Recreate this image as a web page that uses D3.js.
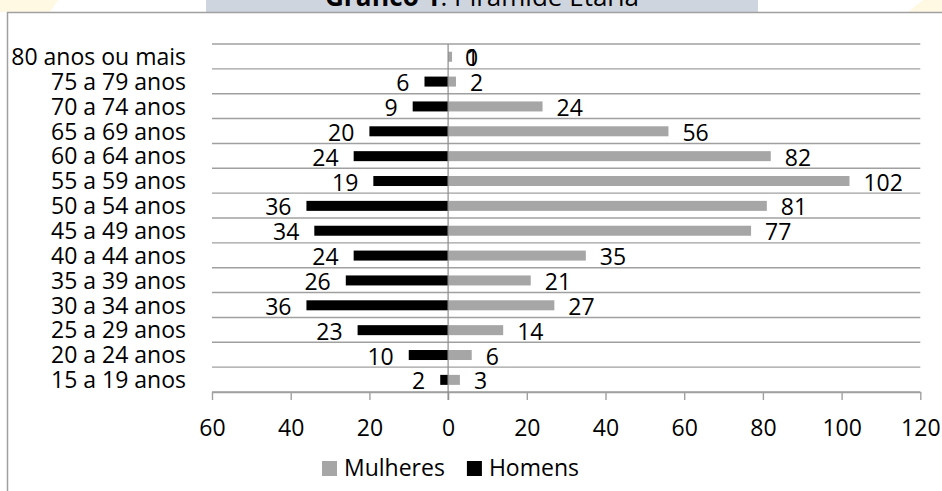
<!DOCTYPE html>
<html>
<head>
<meta charset="utf-8">
<script src="https://cdn.jsdelivr.net/npm/d3@7"></script>
<style>
  html, body { margin: 0; padding: 0; background: #fff; }
  svg { display: block; }
  text { font-family: "Open Sans", "Noto Sans", sans-serif; fill: #000; }
</style>
</head>
<body>
<svg id="chart" width="942" height="491"></svg>
<script>
const categories = ["80 anos ou mais", "75 a 79 anos", "70 a 74 anos", "65 a 69 anos", "60 a 64 anos",
  "55 a 59 anos", "50 a 54 anos", "45 a 49 anos", "40 a 44 anos", "35 a 39 anos",
  "30 a 34 anos", "25 a 29 anos", "20 a 24 anos", "15 a 19 anos"];
const homens = [0, 6, 9, 20, 24, 19, 36, 34, 24, 26, 36, 23, 10, 2];
const mulheres = [1, 2, 24, 56, 82, 102, 81, 77, 35, 21, 27, 14, 6, 3];
const tickValues = [-60, -40, -20, 0, 20, 40, 60, 80, 100, 120];
const seriesNames = ["Mulheres", "Homens"];
const seriesColors = ["#a6a6a6", "#000000"];
const titleBold = "Gráfico 1";
const titleRest = ": Pirâmide Etária";

const svg = d3.select("#chart");
const FS = 23;

// decorative pale corners
svg.append("path").attr("d", "M0,0 L58,0 L50,12 L0,12 Z").attr("fill", "#fff9e3");
svg.append("path").attr("d", "M923,0 L942,0 L942,12 L908,12 Z").attr("fill", "#fff9e3");

// title box
svg.append("rect").attr("x", 206).attr("y", 0).attr("width", 552).attr("height", 12).attr("fill", "#cfd5df");
const title = svg.append("text").attr("x", 482).attr("y", 6).attr("text-anchor", "middle")
  .style("font-size", "26px");
title.append("tspan").style("font-weight", "bold").text(titleBold);
title.append("tspan").text(titleRest);

// outer frame
svg.append("line").attr("x1", 7).attr("x2", 942).attr("y1", 12.5).attr("y2", 12.5)
  .attr("stroke", "#a0a0a0").attr("stroke-width", 1.5);
svg.append("line").attr("x1", 7.5).attr("x2", 7.5).attr("y1", 12).attr("y2", 491)
  .attr("stroke", "#a0a0a0").attr("stroke-width", 1.5);

const x = d3.scaleLinear().domain([-60, 120]).range([212, 920.3]);
const y = d3.scaleBand().domain(categories).range([44, 392]).padding(0);
const barH = 10;

// horizontal gridlines (band boundaries)
const bounds = categories.map(c => y(c)).concat([y.range()[1]]);
svg.append("g").selectAll("line").data(bounds).join("line")
  .attr("x1", x(-60)).attr("x2", x(120))
  .attr("y1", d => d).attr("y2", d => d)
  .attr("stroke", "#a0a0a0").attr("stroke-width", 1.4);

// axis
const axis = d3.axisBottom(x).tickValues(tickValues).tickSize(8).tickSizeOuter(0).tickPadding(20)
  .tickFormat(d => Math.abs(d));
const ag = svg.append("g").attr("transform", `translate(0,${y.range()[1]})`).call(axis);
ag.select(".domain").attr("stroke", "#a0a0a0").attr("stroke-width", 1.4);
ag.selectAll(".tick line").attr("stroke", "#a0a0a0").attr("stroke-width", 1.4);
ag.selectAll(".tick text").style("font-size", FS + "px").style("font-family", "'Open Sans', sans-serif").attr("fill", "#000");

// bars
const rows = categories.map((c, i) => ({ c, h: homens[i], m: mulheres[i] }));
const bc = d => y(d.c) + y.bandwidth() / 2 + 0.3;
svg.append("g").selectAll("rect").data(rows).join("rect")
  .attr("x", x(0)).attr("width", d => x(d.m) - x(0))
  .attr("y", d => bc(d) - barH / 2).attr("height", barH).attr("fill", seriesColors[0]);
svg.append("g").selectAll("rect").data(rows).join("rect")
  .attr("x", d => x(-d.h)).attr("width", d => x(0) - x(-d.h))
  .attr("y", d => bc(d) - barH / 2).attr("height", barH).attr("fill", seriesColors[1]);

// zero line
svg.append("line").attr("x1", x(0)).attr("x2", x(0)).attr("y1", 44).attr("y2", 400)
  .attr("stroke", "#8c8c8c").attr("stroke-width", 1.2);

// value labels
const lab = svg.append("g").style("font-size", FS + "px");
lab.selectAll("text.m").data(rows).join("text").attr("class", "m")
  .attr("x", d => x(d.m) + 14).attr("y", d => bc(d) + 9.5)
  .text(d => d.m);
lab.selectAll("text.h").data(rows).join("text").attr("class", "h")
  .attr("x", d => d.h === 0 ? x(0) + 17 : x(-d.h) - 15)
  .attr("text-anchor", d => d.h === 0 ? "start" : "end")
  .attr("y", d => bc(d) + 9.5)
  .text(d => d.h);

// category labels
svg.append("g").selectAll("text").data(categories).join("text")
  .attr("x", 186).attr("y", d => y(d) + y.bandwidth() / 2 + 8.5)
  .attr("text-anchor", "end").style("font-size", FS + "px")
  .text(d => d);

// legend
const lg = svg.append("g");
let lx = 322;
seriesNames.forEach((n, i) => {
  lg.append("rect").attr("x", lx).attr("y", 461).attr("width", 15).attr("height", 15).attr("fill", seriesColors[i]);
  const t = lg.append("text").attr("x", lx + 22).attr("y", 476).style("font-size", FS + "px").text(n);
  lx = lx + 22 + t.node().getComputedTextLength() + 22;
});
</script>
</body>
</html>
